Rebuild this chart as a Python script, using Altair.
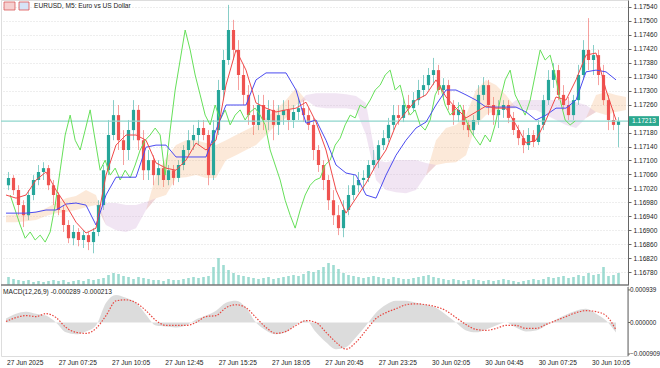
import altair as alt
import pandas as pd

FONT = "Liberation Sans"
TEAL = "#26a69a"
RED = "#ef5350"

symbol_title = "EURUSD, M5:  Euro vs US Dollar"
macd_params = "MACD(12,26,9)"
current_price = 1.17213
macd_last = -0.000289
signal_last = -0.000213

bars_per_candle = 3   # each drawn candle spans three M5 bars
line_step = 6         # indicator lines sampled every six M5 bars
chikou_shift = 26     # lagging span offset in M5 bars
view_bars = 370.2     # visible M5 bars

time_ticks = [0, 31, 63, 95, 127, 159, 191, 223, 255, 287, 319, 351]
time_labels = ["27 Jun 2025", "27 Jun 07:25", "27 Jun 10:05", "27 Jun 12:45",
               "27 Jun 15:25", "27 Jun 18:05", "27 Jun 20:45", "27 Jun 23:25",
               "30 Jun 02:05", "30 Jun 04:45", "30 Jun 07:25", "30 Jun 10:05"]
price_ticks = [1.17540, 1.17500, 1.17460, 1.17420, 1.17380, 1.17340, 1.17300,
               1.17260, 1.17180, 1.17140, 1.17100, 1.17060, 1.17020,
               1.16980, 1.16940, 1.16900, 1.16860, 1.16820, 1.16780]
price_domain = [1.16743, 1.17560]
macd_ticks = [0.000939, 0.0, -0.000909]
macd_domain = [-0.000966, 0.001024]

open_ = [1.17029, 1.17050, 1.17015, 1.16972, 1.16943, 1.17001, 1.17044, 1.17067, 1.17078, 1.17029,
         1.17001, 1.16958, 1.16915, 1.16877, 1.16895, 1.16872, 1.16886, 1.16866, 1.16895, 1.16972,
         1.17072, 1.17173, 1.17230, 1.17158, 1.17130, 1.17187, 1.17245, 1.17158, 1.17072, 1.17101,
         1.17058, 1.17078, 1.17044, 1.17072, 1.17050, 1.17087, 1.17130, 1.17158, 1.17173, 1.17193,
         1.17173, 1.17058, 1.17187, 1.17302, 1.17388, 1.17474, 1.17417, 1.17345, 1.17288, 1.17230,
         1.17202, 1.17259, 1.17216, 1.17245, 1.17202, 1.17230, 1.17245, 1.17216, 1.17239, 1.17250,
         1.17230, 1.17202, 1.17130, 1.17087, 1.17044, 1.16986, 1.16943, 1.16906, 1.16958, 1.17001,
         1.17029, 1.17044, 1.17050, 1.17087, 1.17101, 1.17144, 1.17164, 1.17202, 1.17230, 1.17222,
         1.17259, 1.17250, 1.17273, 1.17302, 1.17316, 1.17345, 1.17359, 1.17302, 1.17316, 1.17259,
         1.17230, 1.17245, 1.17202, 1.17187, 1.17216, 1.17288, 1.17316, 1.17259, 1.17230, 1.17245,
         1.17259, 1.17222, 1.17187, 1.17164, 1.17144, 1.17173, 1.17153, 1.17202, 1.17273, 1.17331,
         1.17359, 1.17288, 1.17259, 1.17230, 1.17273, 1.17345, 1.17417, 1.17388, 1.17402, 1.17345,
         1.17273, 1.17216, 1.17202]
high = [1.17067, 1.17058, 1.17029, 1.16986, 1.17015, 1.17058, 1.17087, 1.17095, 1.17087, 1.17044,
        1.17009, 1.16972, 1.16929, 1.16915, 1.16906, 1.16900, 1.16895, 1.16906, 1.16986, 1.17087,
        1.17216, 1.17273, 1.17259, 1.17187, 1.17216, 1.17273, 1.17259, 1.17187, 1.17130, 1.17115,
        1.17101, 1.17095, 1.17087, 1.17087, 1.17101, 1.17144, 1.17187, 1.17202, 1.17216, 1.17216,
        1.17187, 1.17216, 1.17331, 1.17417, 1.17546, 1.17503, 1.17445, 1.17374, 1.17316, 1.17259,
        1.17288, 1.17288, 1.17273, 1.17273, 1.17259, 1.17273, 1.17273, 1.17259, 1.17279, 1.17273,
        1.17250, 1.17222, 1.17144, 1.17101, 1.17058, 1.17015, 1.16972, 1.16986, 1.17029, 1.17058,
        1.17067, 1.17072, 1.17101, 1.17130, 1.17158, 1.17187, 1.17222, 1.17259, 1.17259, 1.17279,
        1.17288, 1.17296, 1.17331, 1.17345, 1.17365, 1.17394, 1.17374, 1.17336, 1.17331, 1.17273,
        1.17267, 1.17259, 1.17216, 1.17230, 1.17316, 1.17339, 1.17331, 1.17282, 1.17273, 1.17273,
        1.17273, 1.17239, 1.17202, 1.17187, 1.17193, 1.17187, 1.17216, 1.17288, 1.17359, 1.17379,
        1.17374, 1.17316, 1.17282, 1.17288, 1.17374, 1.17445, 1.17508, 1.17431, 1.17417, 1.17374,
        1.17288, 1.17245, 1.17224]
low = [1.17015, 1.17001, 1.16943, 1.16909, 1.16929, 1.16986, 1.17029, 1.17044, 1.17015, 1.16972,
       1.16943, 1.16895, 1.16863, 1.16857, 1.16854, 1.16849, 1.16843, 1.16834, 1.16883, 1.16958,
       1.17058, 1.17158, 1.17130, 1.17087, 1.17101, 1.17158, 1.17130, 1.17044, 1.17044, 1.17029,
       1.17029, 1.17024, 1.17029, 1.17029, 1.17038, 1.17072, 1.17115, 1.17130, 1.17144, 1.17158,
       1.17029, 1.17044, 1.17173, 1.17273, 1.17374, 1.17388, 1.17302, 1.17259, 1.17202, 1.17173,
       1.17187, 1.17187, 1.17187, 1.17158, 1.17173, 1.17202, 1.17187, 1.17193, 1.17216, 1.17210,
       1.17187, 1.17101, 1.17067, 1.17015, 1.16958, 1.16915, 1.16886, 1.16880, 1.16943, 1.16986,
       1.17009, 1.17015, 1.17038, 1.17072, 1.17078, 1.17130, 1.17153, 1.17187, 1.17202, 1.17210,
       1.17230, 1.17239, 1.17259, 1.17282, 1.17302, 1.17316, 1.17288, 1.17273, 1.17245, 1.17202,
       1.17210, 1.17187, 1.17167, 1.17173, 1.17202, 1.17273, 1.17230, 1.17202, 1.17193, 1.17222,
       1.17207, 1.17173, 1.17144, 1.17121, 1.17130, 1.17138, 1.17144, 1.17187, 1.17259, 1.17308,
       1.17273, 1.17245, 1.17216, 1.17216, 1.17259, 1.17331, 1.17359, 1.17345, 1.17316, 1.17259,
       1.17187, 1.17187, 1.17138]
close = [1.17050, 1.17015, 1.16972, 1.16943, 1.17001, 1.17044, 1.17067, 1.17078, 1.17029, 1.17001,
         1.16958, 1.16915, 1.16877, 1.16895, 1.16872, 1.16886, 1.16866, 1.16895, 1.16972, 1.17072,
         1.17173, 1.17230, 1.17158, 1.17130, 1.17187, 1.17245, 1.17158, 1.17072, 1.17101, 1.17058,
         1.17078, 1.17044, 1.17072, 1.17050, 1.17087, 1.17130, 1.17158, 1.17173, 1.17193, 1.17173,
         1.17058, 1.17187, 1.17302, 1.17388, 1.17474, 1.17417, 1.17345, 1.17288, 1.17230, 1.17202,
         1.17259, 1.17216, 1.17245, 1.17202, 1.17230, 1.17245, 1.17216, 1.17239, 1.17250, 1.17230,
         1.17202, 1.17130, 1.17087, 1.17044, 1.16986, 1.16943, 1.16906, 1.16958, 1.17001, 1.17029,
         1.17044, 1.17050, 1.17087, 1.17101, 1.17144, 1.17164, 1.17202, 1.17230, 1.17222, 1.17259,
         1.17250, 1.17273, 1.17302, 1.17316, 1.17345, 1.17359, 1.17302, 1.17316, 1.17259, 1.17230,
         1.17245, 1.17202, 1.17187, 1.17216, 1.17288, 1.17316, 1.17259, 1.17230, 1.17245, 1.17259,
         1.17222, 1.17187, 1.17164, 1.17144, 1.17173, 1.17153, 1.17202, 1.17273, 1.17331, 1.17359,
         1.17288, 1.17259, 1.17230, 1.17273, 1.17345, 1.17417, 1.17388, 1.17402, 1.17345, 1.17273,
         1.17216, 1.17202, 1.17213]
volume = [400, 300, 250, 200, 250, 150, 200, 150, 200, 250,
          200, 250, 150, 200, 250, 200, 300, 250, 300, 350,
          500, 600, 550, 450, 400, 300, 400, 350, 300, 250,
          250, 200, 300, 250, 250, 300, 350, 400, 350, 400,
          450, 900, 1350, 1000, 750, 600, 500, 450, 400, 350,
          300, 350, 400, 300, 350, 400, 450, 500, 450, 550,
          700, 650, 750, 900, 1100, 1000, 800, 600, 500, 450,
          400, 350, 400, 450, 400, 350, 300, 400, 350, 300,
          300, 350, 400, 450, 500, 400, 350, 300, 250, 300,
          250, 200, 250, 300, 250, 200, 250, 200, 250, 300,
          250, 200, 150, 200, 250, 300, 250, 300, 400, 350,
          400, 450, 350, 400, 500, 450, 600, 500, 550, 900, 450, 500, 600]
volume_domain = [0, 14250]

tenkan = [1.17001, 1.16992, 1.17001, 1.17044, 1.17067, 1.17015, 1.16972, 1.16923, 1.16892, 1.16906,
          1.17058, 1.17144, 1.17173, 1.17173, 1.17158, 1.17093, 1.17078, 1.17072, 1.17101, 1.17150,
          1.17130, 1.17158, 1.17316, 1.17417, 1.17359, 1.17265, 1.17250, 1.17239, 1.17245, 1.17250,
          1.17267, 1.17210, 1.17130, 1.17015, 1.16949, 1.16992, 1.17035, 1.17087, 1.17130, 1.17202,
          1.17239, 1.17273, 1.17288, 1.17331, 1.17282, 1.17250, 1.17222, 1.17239, 1.17256, 1.17250,
          1.17250, 1.17202, 1.17150, 1.17158, 1.17216, 1.17282, 1.17273, 1.17331, 1.17402, 1.17408,
          1.17302, 1.17216]
kijun = [1.16949, 1.16949, 1.16949, 1.16952, 1.16958, 1.16958, 1.16975, 1.16978, 1.16972, 1.16915,
         1.17001, 1.17052, 1.17052, 1.17052, 1.17138, 1.17144, 1.17144, 1.17110, 1.17110, 1.17110,
         1.17110, 1.17187, 1.17259, 1.17259, 1.17259, 1.17331, 1.17351, 1.17351, 1.17351, 1.17302,
         1.17207, 1.17216, 1.17158, 1.17087, 1.17064, 1.17058, 1.17001, 1.16992, 1.17058, 1.17115,
         1.17158, 1.17193, 1.17210, 1.17259, 1.17302, 1.17302, 1.17288, 1.17273, 1.17253, 1.17253,
         1.17253, 1.17253, 1.17239, 1.17216, 1.17230, 1.17250, 1.17250, 1.17273, 1.17354, 1.17359,
         1.17354, 1.17331]
senkou_a = [1.16943, 1.16946, 1.16949, 1.16952, 1.16963, 1.16978, 1.16992, 1.16998, 1.17015, 1.17001,
            1.16915, 1.16900, 1.16895, 1.16906, 1.16958, 1.17058, 1.17107, 1.17144, 1.17158, 1.17158,
            1.17150, 1.17144, 1.17158, 1.17173, 1.17187, 1.17202, 1.17222, 1.17245, 1.17273, 1.17308,
            1.17273, 1.17253, 1.17250, 1.17250, 1.17250, 1.17245, 1.17173, 1.17044, 1.17015, 1.17009,
            1.17006, 1.17015, 1.17058, 1.17158, 1.17193, 1.17202, 1.17230, 1.17302, 1.17331, 1.17316,
            1.17288, 1.17250, 1.17245, 1.17245, 1.17230, 1.17216, 1.17202, 1.17193, 1.17222, 1.17288,
            1.17296, 1.17288, 1.17282]
senkou_b = [1.16923, 1.16923, 1.16926, 1.16929, 1.16941, 1.16949, 1.16952, 1.16958, 1.16966, 1.16972,
            1.16978, 1.16978, 1.16972, 1.16972, 1.16981, 1.16992, 1.17001, 1.17050, 1.17052, 1.17058,
            1.17050, 1.17050, 1.17101, 1.17115, 1.17130, 1.17144, 1.17173, 1.17202, 1.17222, 1.17259,
            1.17288, 1.17293, 1.17293, 1.17293, 1.17290, 1.17285, 1.17265, 1.17101, 1.17095, 1.17101,
            1.17101, 1.17101, 1.17093, 1.17087, 1.17093, 1.17095, 1.17115, 1.17202, 1.17230, 1.17245,
            1.17250, 1.17273, 1.17273, 1.17273, 1.17273, 1.17273, 1.17273, 1.17267, 1.17259, 1.17239,
            1.17230, 1.17239, 1.17245]
macd_hist = [0.000114, 0.000256, 0.000313, 0.000256, 0.000199, 0.0, -0.000284, -0.000341, -0.000256, -0.000085,
             0.000569, 0.000796, 0.000711, 0.000569, 0.000227, -0.000085, -0.000114, -0.000142, -0.000085, 0.000085,
             0.000199, 0.000341, 0.000569, 0.000625, 0.000426, 0.0, -0.000227, -0.000341, -0.000284, -0.000057,
             0.000057, -0.000284, -0.000569, -0.000768, -0.000711, -0.000426, -0.000085, 0.000284, 0.000512, 0.000625,
             0.000625, 0.000569, 0.000512, 0.000426, 0.000227, 0.0, -0.000227, -0.000284, -0.000199, -0.000085,
             0.0, -0.000142, -0.000256, -0.000227, -0.000085, 0.000085, 0.000227, 0.000341, 0.000398, 0.000256,
             0.000057, -0.000289]
macd_signal = [0.000028, 0.000142, 0.000199, 0.000171, 0.000256, 0.000142, -0.000142, -0.000284, -0.000313, -0.000171,
               0.000199, 0.000625, 0.000654, 0.000569, 0.000341, 0.000057, -0.000085, -0.000085, -0.000085, 0.0,
               0.000171, 0.000199, 0.000426, 0.000512, 0.000426, 0.000142, -0.000142, -0.000313, -0.000256, -0.000085,
               0.000057, 0.0, -0.000284, -0.000569, -0.000768, -0.000569, -0.000227, 0.000114, 0.000284, 0.000398,
               0.000512, 0.00054, 0.000512, 0.000455, 0.000341, 0.000142, -0.000057, -0.000199, -0.000227, -0.000171,
               -0.000085, -0.000085, -0.000171, -0.000171, -0.000057, 0.000057, 0.000171, 0.000284, 0.000341, 0.000313,
               0.000199, -0.000213]

# ---------------- layout (pixels inside the plot group) ----------------
W = 627
MAIN_BOTTOM = 285
MACD_TOP, MACD_BOTTOM = 287, 356
FS = 6.6

# ---------------- tables ----------------
candles = pd.DataFrame({"open": open_, "high": high, "low": low, "close": close, "vol": volume})
candles["t"] = [bars_per_candle * i + bars_per_candle / 2 for i in range(len(candles))]
candles["dir"] = ["up" if c >= o else "down" for o, c in zip(open_, close)]
candles["chikou_t"] = candles["t"] - chikou_shift

lines = pd.DataFrame({"tenkan": tenkan, "kijun": kijun})
lines["t"] = [line_step * k for k in range(len(lines))]
cloud = pd.DataFrame({"a": senkou_a, "b": senkou_b})
cloud["t"] = [line_step * k for k in range(len(cloud))]
cloud["lo"] = cloud[["a", "b"]].min(axis=1)
macd = pd.DataFrame({"hist": macd_hist, "signal": macd_signal})
macd["t"] = [line_step * k for k in range(len(macd))]
macd["zero"] = 0.0
macd_tick_df = pd.DataFrame({"v": macd_ticks})
time_df = pd.DataFrame({"t": time_ticks, "label": time_labels})

xs = alt.Scale(domain=[0, view_bars], nice=False, zero=False)
ys = alt.Scale(domain=price_domain, range=[MAIN_BOTTOM, 0], nice=False, zero=False)
vs = alt.Scale(domain=volume_domain, range=[MAIN_BOTTOM, 0], nice=False, zero=False)
ms = alt.Scale(domain=macd_domain, range=[MACD_BOTTOM, MACD_TOP], nice=False, zero=False)
dir_color = alt.Color("dir:N", scale=alt.Scale(domain=["up", "down"], range=[TEAL, RED]), legend=None)
GRID = "#dcdcdc"


def X(field="t"):
    return alt.X(f"{field}:Q", scale=xs, axis=None)


def Y(field):
    return alt.Y(f"{field}:Q", scale=ys, axis=None)


def M(field):
    return alt.Y(f"{field}:Q", scale=ms, axis=None)


# time grid/ticks + price axis carried by the wick layer
wicks = alt.Chart(candles).mark_rule(strokeWidth=1, opacity=0.55).encode(
    x=alt.X("t:Q", scale=xs, axis=alt.Axis(values=time_ticks, labels=False, ticks=True, tickSize=3,
                                             tickColor="#666", domainColor="#7a7a7a", domainWidth=1.5,
                                             grid=True, gridColor=GRID, gridDash=[1, 2], title=None)),
    y=alt.Y("low:Q", scale=ys, axis=alt.Axis(orient="right", values=price_ticks, format=".5f", title=None,
                                              labelFont=FONT, labelFontSize=FS, labelColor="#222",
                                              tickSize=3, tickColor="#666", domainColor="#666",
                                              grid=True, gridColor=GRID, gridDash=[1, 2],
                                              labelPadding=2, labelOverlap=False)),
    y2="high:Q", color=dir_color)
bodies = alt.Chart(candles).mark_bar(size=3.2).encode(x=X(), y=Y("open"), y2="close:Q", color=dir_color)

vol = alt.Chart(candles).mark_bar(size=2.6, color="#7fd0c3", opacity=0.75).encode(
    x=X(), y=alt.Y("vol:Q", scale=vs, axis=None))

cloud_up = alt.Chart(cloud).mark_area(color="#f4a460", opacity=0.24, clip=True).encode(
    x=X(), y=Y("a"), y2="lo:Q")
cloud_dn = alt.Chart(cloud).mark_area(color="#cfa8d8", opacity=0.3, clip=True).encode(
    x=X(), y=Y("b"), y2="lo:Q")

chikou = alt.Chart(candles).transform_filter("datum.chikou_t >= 0").mark_line(
    color="#66e05a", strokeWidth=1, clip=True).encode(x=X("chikou_t"), y=Y("close"))
kijun_l = alt.Chart(lines).mark_line(color="#4b4bf0", strokeWidth=1).encode(x=X(), y=Y("kijun"))
tenkan_l = alt.Chart(lines).mark_line(color="#f04848", strokeWidth=1).encode(x=X(), y=Y("tenkan"))

cur = pd.DataFrame({"price": [current_price], "label": [f"{current_price:.5f}"]})
cur_line = alt.Chart(cur).mark_rule(color="#8fd6cc", strokeWidth=1.2).encode(
    x=alt.value(0), x2=alt.value(W), y=Y("price"))
cur_box = alt.Chart(cur).transform_calculate(top="datum.price + 0.00014", bot="datum.price - 0.00014").mark_rect(
    color="#2aa88f").encode(x=alt.value(628), x2=alt.value(658), y=Y("top"), y2="bot:Q")
cur_txt = alt.Chart(cur).mark_text(align="left", baseline="middle", font=FONT, fontSize=FS, color="white").encode(
    x=alt.value(631), y=Y("price"), text="label:N")

title_df = pd.DataFrame({"label": [symbol_title]})
title_txt = alt.Chart(title_df).mark_text(align="left", baseline="middle", font=FONT, fontSize=FS,
                                          color="#222").encode(x=alt.value(33), y=alt.value(6), text="label:N")
icon1 = alt.Chart(title_df).mark_rect(fill="#f6d0d0", stroke="#d95a5a", strokeWidth=0.8).encode(
    x=alt.value(3), x2=alt.value(14), y=alt.value(2), y2=alt.value(10))
icon2 = alt.Chart(title_df).mark_rect(fill="#d6e4f7", stroke="#e05050", strokeWidth=0.8).encode(
    x=alt.value(18), x2=alt.value(28), y=alt.value(2), y2=alt.value(10))

# panel separator and MACD frame
sep = alt.Chart(pd.DataFrame({"p": [price_domain[0]]})).mark_rule(color="#7a7a7a", strokeWidth=1.5).encode(
    x=alt.value(0), x2=alt.value(W), y=Y("p"))
frame = alt.Chart(pd.DataFrame({"top": [macd_domain[1]], "bot": [macd_domain[0]]})).mark_rule(
    color="#666", strokeWidth=1).encode(x=alt.value(W), y=M("top"), y2="bot:Q")

hist = alt.Chart(macd).mark_area(color="#dadada", opacity=0.95, interpolate="monotone").encode(
    x=X(), y=M("hist"), y2="zero:Q")
signal = alt.Chart(macd).mark_line(color="#e8463f", strokeWidth=1.2, strokeDash=[1.5, 1.5],
                                   interpolate="monotone").encode(x=X(), y=M("signal"))
macd_tick = alt.Chart(macd_tick_df).mark_rule(color="#666", strokeWidth=1).encode(
    x=alt.value(W), x2=alt.value(W + 2), y=M("v"))
macd_lbl = alt.Chart(macd_tick_df).mark_text(align="left", baseline="middle", font=FONT, fontSize=6.3,
                                             color="#222").encode(
    x=alt.value(W + 2), y=M("v"), text=alt.Text("v:Q", format=".6f"))
macd_title = pd.DataFrame({"label": [f"{macd_params} {macd_last:.6f} {signal_last:.6f}"]})
macd_txt = alt.Chart(macd_title).mark_text(align="left", baseline="middle", font=FONT, fontSize=FS,
                                           color="#222").encode(x=alt.value(2), y=alt.value(MACD_TOP + 5),
                                                                text="label:N")
time_txt = alt.Chart(time_df).mark_text(align="left", baseline="middle", font=FONT, fontSize=FS,
                                        color="#222", dx=1).encode(
    x=X(), y=alt.value(MACD_BOTTOM + 7), text="label:N")

chart = alt.layer(
    wicks, cloud_up, cloud_dn, vol, bodies, cur_line, chikou, kijun_l, tenkan_l,
    cur_box, cur_txt, icon1, icon2, title_txt,
    sep, frame, hist, signal, macd_tick, macd_lbl, macd_txt, time_txt
).resolve_scale(y="independent").properties(
    width=W, height=MACD_BOTTOM, padding=0
).configure_view(stroke=None).configure(background="white")

chart.save("out.html", embed_options={"renderer": "svg", "actions": False})
